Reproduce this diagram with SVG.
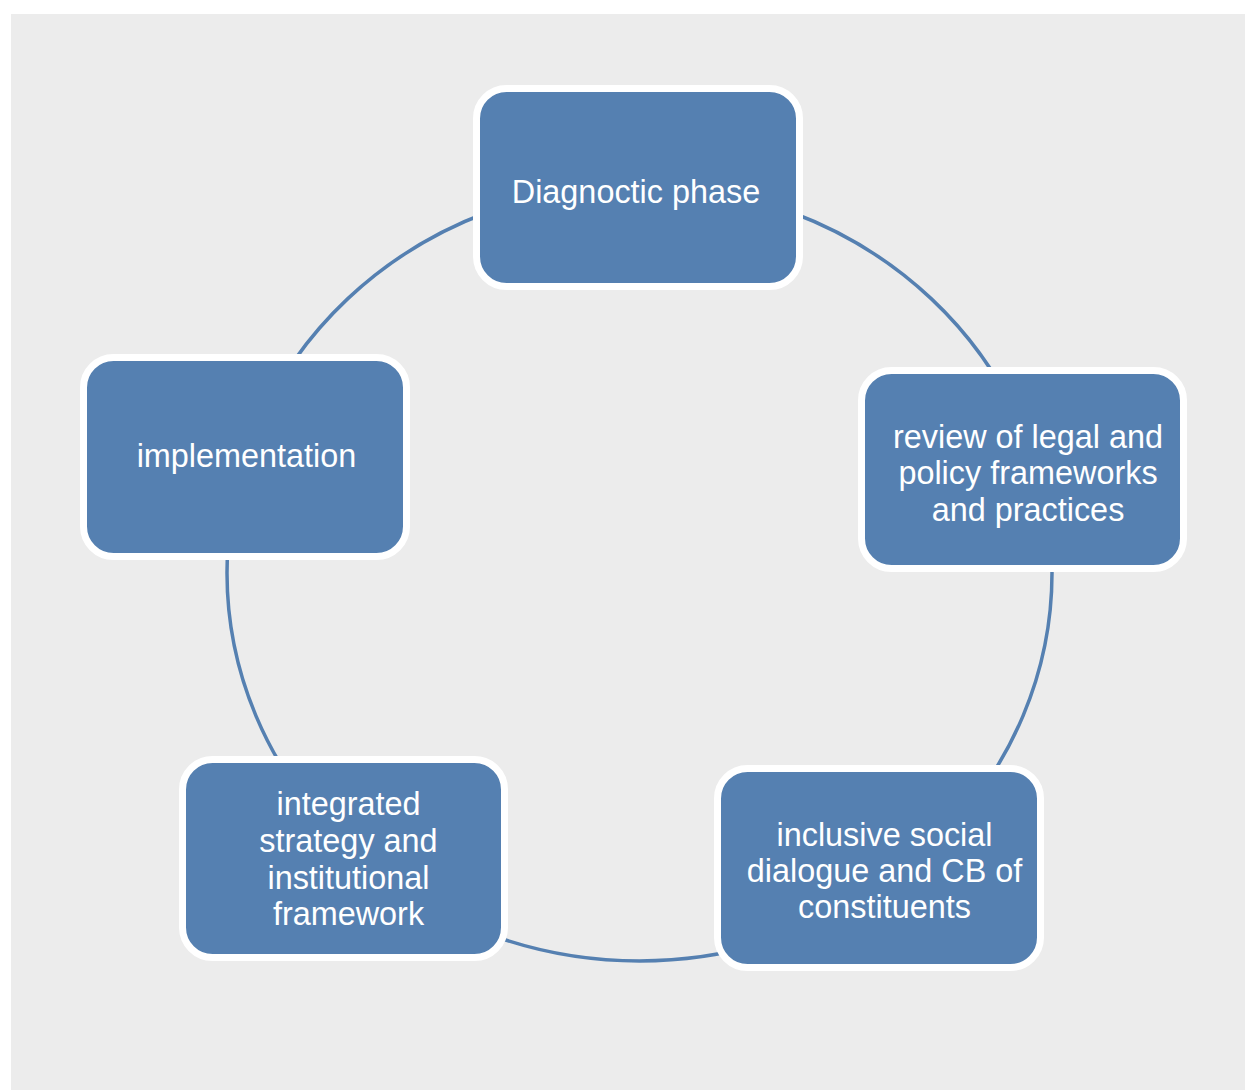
<svg xmlns="http://www.w3.org/2000/svg" width="1245" height="1090" viewBox="0 0 1245 1090">
  <style>
    .box { fill: #5580b1; stroke: #ffffff; stroke-width: 7; }
    .label { font-family: "Liberation Sans", Arial, sans-serif; font-size: 32.4px; fill: #ffffff; text-anchor: middle; }
    .cycle { fill: none; stroke: #5580b1; stroke-width: 3.5; }
  </style>
  <rect x="0" y="0" width="1245" height="1090" fill="#ffffff"/>
  <rect x="11" y="14" width="1234" height="1076" fill="#ececec"/>

  <!-- cycle path behind the steps -->
  <g id="connectors">
    <ellipse class="cycle" cx="639.5" cy="573" rx="412.5" ry="388"/>
  </g>

  <g id="node-diagnostic">
    <rect class="box" x="476.5" y="88.5" width="323" height="198" rx="30" ry="30"/>
    <text class="label" x="636" y="202.5">Diagnoctic phase</text>
  </g>

  <g id="node-review">
    <rect class="box" x="861.5" y="370.5" width="322" height="198" rx="30" ry="30"/>
    <text class="label" x="1028" y="447.5">review of legal and</text>
    <text class="label" x="1028" y="484">policy frameworks</text>
    <text class="label" x="1028" y="520.5">and practices</text>
  </g>

  <g id="node-dialogue">
    <rect class="box" x="717.5" y="768.5" width="323" height="199" rx="30" ry="30"/>
    <text class="label" x="884.5" y="846">inclusive social</text>
    <text class="label" x="884.5" y="882">dialogue and CB of</text>
    <text class="label" x="884.5" y="918">constituents</text>
  </g>

  <g id="node-strategy">
    <rect class="box" x="182.5" y="759.5" width="322" height="198" rx="30" ry="30"/>
    <text class="label" x="348.5" y="815">integrated</text>
    <text class="label" x="348.5" y="852">strategy and</text>
    <text class="label" x="348.5" y="888.5">institutional</text>
    <text class="label" x="348.5" y="925">framework</text>
  </g>

  <g id="node-implementation">
    <rect class="box" x="83.5" y="357.5" width="323" height="199" rx="30" ry="30"/>
    <text class="label" x="246.5" y="467">implementation</text>
  </g>
</svg>
